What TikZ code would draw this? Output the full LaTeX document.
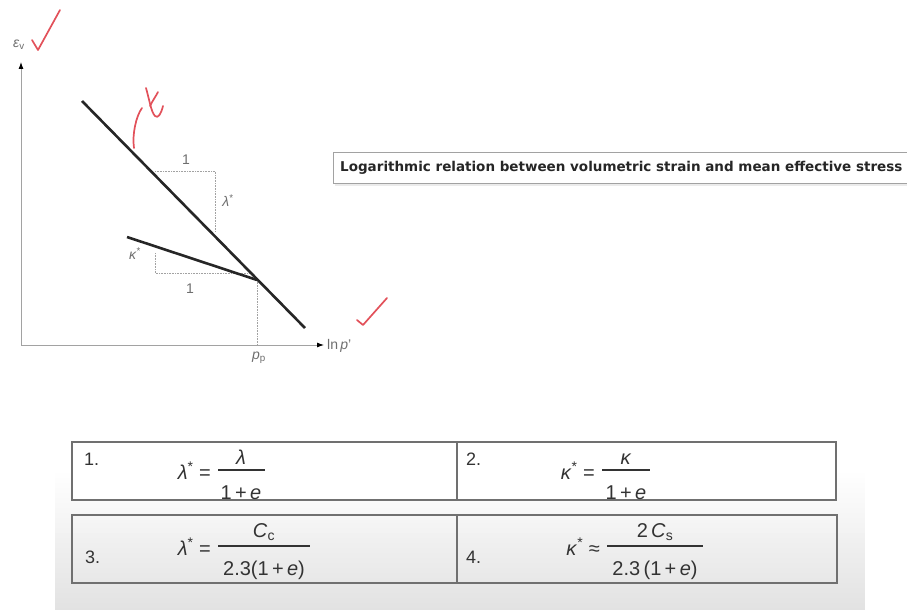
\documentclass[tikz,border=0pt]{standalone}
\usepackage{fontspec}
\setmainfont{Liberation Sans}
\newfontfamily\titlefont{DejaVu Sans}
\usetikzlibrary{arrows.meta}
\definecolor{axisgray}{HTML}{A2A2A2}
\definecolor{lblgray}{HTML}{6E6E6E}
\definecolor{markred}{HTML}{E2515A}
\definecolor{boxgray}{HTML}{707070}
\definecolor{bandgray}{HTML}{E2E2E2}
\tikzset{
  axis/.style={draw=axisgray, line width=0.9pt, -{Latex[color=black, length=7pt, width=5pt]}},
  curve/.style={draw=black!85, line width=2.6pt},
  guide/.style={draw=axisgray, line width=0.6pt, densely dotted},
  lbl/.style={text=lblgray, font=\fontsize{14}{16}\selectfont, inner sep=0pt},
  check/.style={draw=markred, line width=1.7pt, line cap=round, line join=round},
  tablebox/.style={draw=boxgray, line width=1.5pt},
  itemno/.style={anchor=base west, inner sep=0pt, text=black!80, font=\fontsize{18}{20}\selectfont},
  formula/.style={inner sep=0pt, text=black!80, font=\fontsize{20}{22}\selectfont},
  fracbar/.style={draw=black!80, line width=1.1pt}
}
\newcommand{\stari}{\textsuperscript{*}}
\begin{document}
\begin{tikzpicture}[x=1pt, y=-1pt]
  \useasboundingbox (0,0) rectangle (907,610);
  \foreach \i [evaluate=\i as \pct using \i*100/28] in {0,...,28}
    \fill[bandgray!\pct] (55,468+5*\i) rectangle (865,473.5+5*\i);
  % graph
  \coordinate (O) at (21,345); \coordinate (Ytip) at (21,62);
  \coordinate (Xtip) at (324,345);
  \coordinate (NA) at (82,101); \coordinate (NB) at (305,328);
  \coordinate (UA) at (127,237); \coordinate (P) at (257,280);
  \draw[axis] (O) -- (Ytip);
  \draw[axis] (O) -- (Xtip);
  \draw[guide] (155,171) -- (215,171) -- (215,232);
  \draw[guide] (155,253) -- (155,273) -- (252,273);
  \draw[guide] (P) -- (P |- O);
  \draw[curve] (NA) -- (NB);
  \draw[curve] (UA) -- (P);
  \node[lbl] (epsv) at (19,45) {\textit{ε}\textsubscript{v}};
  \node[lbl, anchor=west] (lnp) at (327,346) {ln\,\textit{p}'};
  \node[lbl] (pp) at (259,358) {\textit{p}\textsubscript{p}};
  \node[lbl] (oneL) at (186,160) {1};
  \node[lbl] (lamL) at (228,201) {\textit{λ}\stari};
  \node[lbl] (kapL) at (135,254) {\textit{κ}\stari};
  \node[lbl] (oneK) at (190,289) {1};
  % red marks
  \draw[check] (32,40) -- (38,50) -- (60,10);
  \draw[check] (357,320) -- (363,325) -- (387,298);
  \draw[check] (142,108) .. controls (136,116) and (132,135) .. (134,148);
  \draw[check] (146,88) .. controls (149,98) and (151,112) .. (155,116)
    .. controls (158,119) and (161,114) .. (163,106);
  \draw[check] (150,106) .. controls (153,100) and (156,96) .. (158,92);
  % title
  \draw[draw=black!8, line width=2pt] (335,185) -- (920,185);
  \draw[draw=axisgray, line width=1pt, fill=white] (333,152) rectangle (920,183);
  \node[anchor=west, inner sep=0pt, font=\titlefont\fontsize{13.5}{15}\selectfont\bfseries, text=black!85]
    (title) at (340,168) {Logarithmic relation between volumetric strain and mean effective stress};
  % table
  \draw[tablebox, fill=white] (72,442) rectangle (836,500);
  \draw[tablebox] (457,442) -- (457,500);
  \draw[tablebox] (72,515) rectangle (837,583);
  \draw[tablebox] (457,515) -- (457,583);
  \node[itemno] (n1) at (84,465) {1.};
  \node[itemno] (n2) at (466,465) {2.};
  \node[itemno] (n3) at (85,563) {3.};
  \node[itemno] (n4) at (466,563) {4.};
  \node[formula, anchor=base east] (lhs1) at (211,479) {\textit{λ}\stari\ =};
  \node[formula, anchor=base] (num1) at (241,464) {\textit{λ}};
  \draw[fracbar] (218,470) -- (265,470);
  \node[formula, anchor=base] (den1) at (241,499) {1\,+\,\textit{e}};
  \node[formula, anchor=base east] (lhs2) at (595,479) {\textit{κ}\stari\ =};
  \node[formula, anchor=base] (num2) at (626,464) {\textit{κ}};
  \draw[fracbar] (602,470) -- (650,470);
  \node[formula, anchor=base] (den2) at (626,499) {1\,+\,\textit{e}};
  \node[formula, anchor=base east] (lhs3) at (211,555) {\textit{λ}\stari\ =};
  \node[formula, anchor=base] (num3) at (264,537) {\textit{C}\textsubscript{c}};
  \draw[fracbar] (218,546) -- (310,546);
  \node[formula, anchor=base] (den3) at (264,575) {2.3(1\,+\,\textit{e})};
  \node[formula, anchor=base east] (lhs4) at (600,555) {\textit{κ}\stari\ ≈};
  \node[formula, anchor=base] (num4) at (655,537) {2\,\textit{C}\textsubscript{s}};
  \draw[fracbar] (607,546) -- (703,546);
  \node[formula, anchor=base] (den4) at (655,575) {2.3\,(1\,+\,\textit{e})};
\end{tikzpicture}
\end{document}
